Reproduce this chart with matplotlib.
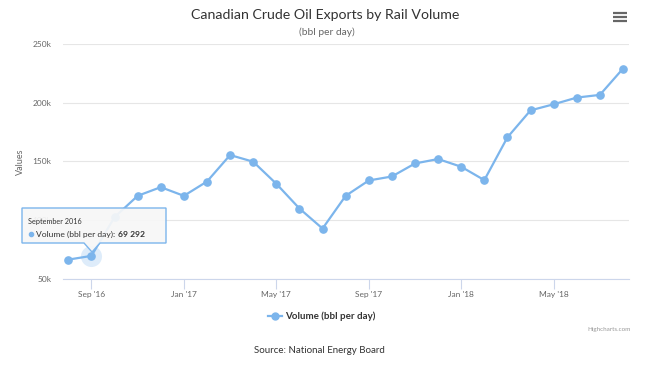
import matplotlib.pyplot as plt
from matplotlib.patches import Polygon
import numpy as np

plt.rcParams['font.family'] = ['Lato', 'DejaVu Sans']

months = ["Aug 2016", "Sep 2016", "Oct 2016", "Nov 2016", "Dec 2016",
          "Jan 2017", "Feb 2017", "Mar 2017", "Apr 2017", "May 2017",
          "Jun 2017", "Jul 2017", "Aug 2017", "Sep 2017", "Oct 2017",
          "Nov 2017", "Dec 2017", "Jan 2018", "Feb 2018", "Mar 2018",
          "Apr 2018", "May 2018", "Jun 2018", "Jul 2018", "Aug 2018"]
volume = [66100, 69292, 102300, 120500, 127900,
          120500, 132700, 155300, 149600, 130800,
          109700, 92600, 120500, 133600, 137000,
          148100, 151900, 145300, 133900, 170400,
          193400, 198600, 204300, 206600, 229000]
tick_idx = [1, 5, 9, 13, 17, 21]
tick_labels = ["Sep '16", "Jan '17", "May '17", "Sep '17", "Jan '18", "May '18"]
y_ticks = [50000, 100000, 150000, 200000, 250000]
y_labels = ["50k", "100k", "150k", "200k", "250k"]

W, H = 650, 368
color = "#7cb5ec"


def fx(x):
    return x / W


def fy(y):
    return 1 - y / H


fig = plt.figure(figsize=(W / 100, H / 100), dpi=100)
ax = fig.add_axes([fx(63), fy(278.5), fx(629) - fx(63), fy(44) - fy(278.5)])

x = np.arange(len(months))
ax.plot(x, volume, color=color, lw=1.6, marker="o", ms=5.2, zorder=3)
# hover halo on September 2016
ax.scatter([x[1]], [volume[1]], s=230, color=color, alpha=0.25, lw=0, zorder=2)

ax.set_xlim(-0.23, 24.26)
ax.set_ylim(50000, 250000)
ax.set_yticks(y_ticks)
ax.set_yticklabels(y_labels)
ax.set_xticks(tick_idx)
ax.set_xticklabels(tick_labels)
ax.grid(axis="y", color="#e6e6e6", lw=0.8)
ax.set_axisbelow(True)
for s in ["top", "right", "left"]:
    ax.spines[s].set_visible(False)
ax.spines["bottom"].set_color("#ccd6eb")
ax.tick_params(axis="y", length=0, pad=8.5, labelsize=6, labelcolor="#666666")
ax.tick_params(axis="x", length=7, color="#ccd6eb", pad=2, labelsize=6,
               labelcolor="#666666")
fig.text(fx(20.5), fy(161.5), "Values", rotation=90, ha="center", va="center",
         fontsize=6.5, color="#666666")

fig.text(0.5, fy(15), "Canadian Crude Oil Exports by Rail Volume", ha="center",
         va="center", fontsize=10.2, color="#333333")
fig.text(fx(326.5), fy(32), "(bbl per day)", ha="center", va="center", fontsize=7.4,
         color="#666666")

# menu icon
for yy in (12.5, 16.8, 21):
    fig.add_artist(plt.Line2D([fx(613), fx(627)], [fy(yy), fy(yy)], color="#666666",
                              lw=1.6, solid_capstyle="butt"))

# legend
fig.add_artist(plt.Line2D([fx(268), fx(282)], [fy(316), fy(316)], color=color, lw=1.6))
fig.add_artist(plt.Line2D([fx(275)], [fy(316)], color=color, marker="o", ms=5))
fig.text(fx(285.5), fy(316), "Volume (bbl per day)", ha="left", va="center",
         fontsize=7, fontweight="bold", color="#333333")

fig.text(fx(631), fy(330), "Highcharts.com", ha="right", va="center", fontsize=4.5,
         color="#999999")
fig.text(fx(319), fy(350.5), "Source: National Energy Board", ha="center", va="center",
         fontsize=7, color="#333333")

# tooltip
pts = [(22, 208), (166, 208), (166, 243), (100, 243), (92, 252), (84, 243), (22, 243)]
fig.add_artist(Polygon([(fx(a), fy(b)) for a, b in pts], closed=True,
                       transform=fig.transFigure, facecolor=(0.97, 0.97, 0.97, 0.93),
                       edgecolor=color, lw=1, zorder=5))
fig.text(fx(28), fy(221.5), "September 2016", ha="left", va="center", fontsize=5.2,
         color="#333333", zorder=6)
fig.add_artist(plt.Line2D([fx(30.7)], [fy(234)], color=color, marker="o", ms=3, zorder=6))
t = fig.text(fx(36.5), fy(234), "Volume (bbl per day): ", ha="left", va="center",
             fontsize=6.1, color="#333333", zorder=6)
fig.canvas.draw()
bb = t.get_window_extent()
fig.text(bb.x1 / fig.dpi / fig.get_figwidth(), fy(234), "69 292", ha="left",
         va="center", fontsize=6.1, fontweight="bold", color="#333333", zorder=6)

fig.savefig("out.png", dpi=100)
